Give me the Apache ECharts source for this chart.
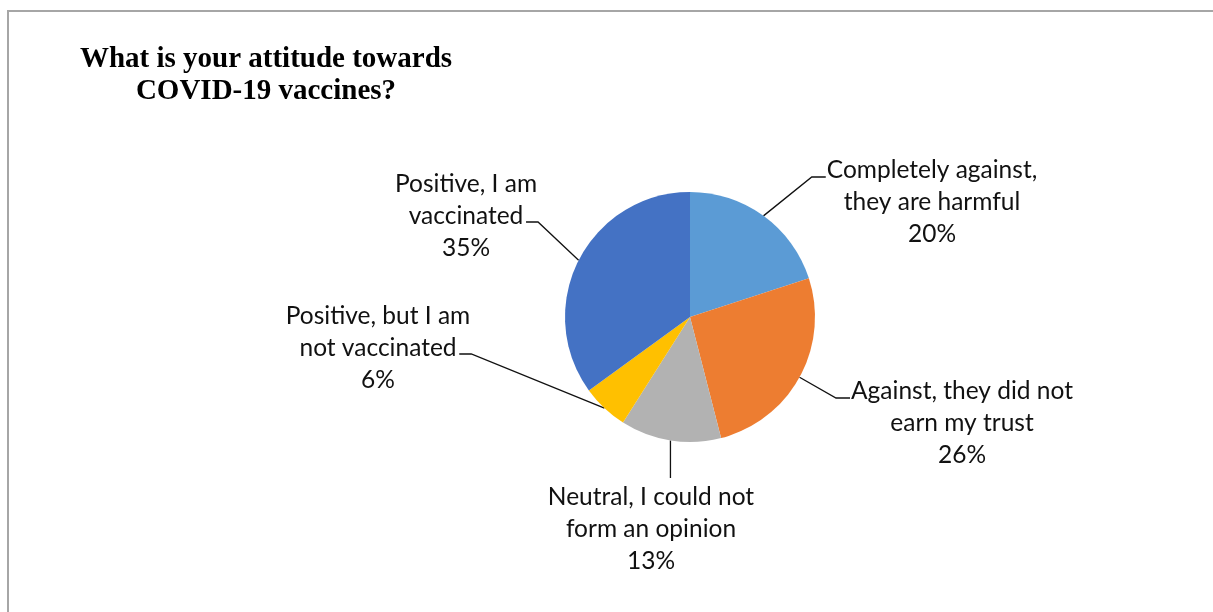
<!DOCTYPE html>
<html>
<head>
<meta charset="utf-8">
<script src="https://cdn.jsdelivr.net/npm/echarts@6/dist/echarts.min.js"></script>
<style>
html,body{margin:0;padding:0;background:#fff;}
#chart{width:1213px;height:612px;}
</style>
</head>
<body>
<div id="chart"></div>
<script>
// ---- data ----
var categories = [
  "Completely against,\nthey are harmful",
  "Against, they did not\nearn my trust",
  "Neutral, I could not\nform an opinion",
  "Positive, but I am\nnot vaccinated",
  "Positive, I am\nvaccinated"
];
var values = [20, 26, 13, 6, 35];
var colors = ["#5B9BD5", "#ED7D31", "#B2B2B2", "#FFC000", "#4472C4"];
var titleText = "What is your attitude towards\nCOVID-19 vaccines?";

// ---- label layout (center x, top y, side) ----
var labelPlace = [
  {cx: 932, top: 154, side: "right"},
  {cx: 962, top: 375, side: "right"},
  {cx: 651, top: 481, side: "bottom"},
  {cx: 378, top: 300, side: "left"},
  {cx: 466, top: 168, side: "left"}
];

var chart = echarts.init(document.getElementById('chart'));
var LH = 32;
var option = {
  backgroundColor: '#fff',
  animation: false,
  title: {
    text: titleText,
    left: 266,
    top: 44,
    padding: 0,
    textAlign: 'center',
    textStyle: {
      fontFamily: 'Liberation Serif',
      fontWeight: 'bold',
      fontSize: 29,
      lineHeight: 32,
      color: '#000'
    }
  },
  graphic: [{
    type: 'rect',
    shape: {x: 8, y: 11, width: 1400, height: 800},
    style: {fill: null, stroke: '#A6A6A6', lineWidth: 2},
    silent: true
  }],
  series: [{
    type: 'pie',
    center: [690, 317],
    radius: 125,
    startAngle: 90,
    clockwise: true,
    itemStyle: {borderWidth: 0},
    label: {
      show: true,
      position: 'outside',
      formatter: function (p) { return p.name + '\n' + p.value + '%'; },
      fontFamily: 'Lato',
      fontSize: 24.5,
      lineHeight: LH,
      color: '#111',
      align: 'center'
    },
    labelLine: {
      show: true,
      length: 20,
      length2: 12,
      lineStyle: {color: '#111', width: 1.3}
    },
    labelLayout: function (params) {
      var pl = labelPlace[params.dataIndex];
      var w = params.labelRect.width;
      var p0 = params.labelLinePoints ? params.labelLinePoints[0] : [0, 0];
      var pts;
      if (pl.side === 'right') {
        var lx = pl.cx - w / 2, y = pl.top + 23;
        pts = [p0, [lx - 15, y], [lx - 1, y]];
      } else if (pl.side === 'left') {
        var rx = pl.cx + w / 2, y2 = pl.top + 54;
        pts = [p0, [rx + 1, y2], [rx - 11, y2]];
      } else {
        pts = [p0, [p0[0], pl.top - 3], [p0[0], pl.top - 3]];
      }
      return {
        x: pl.cx,
        y: pl.top,
        align: 'center',
        verticalAlign: 'top',
        labelLinePoints: pts
      };
    },
    data: categories.map(function (c, i) {
      return {name: c, value: values[i], itemStyle: {color: colors[i]}};
    })
  }]
};
chart.setOption(option);
</script>
</body>
</html>
